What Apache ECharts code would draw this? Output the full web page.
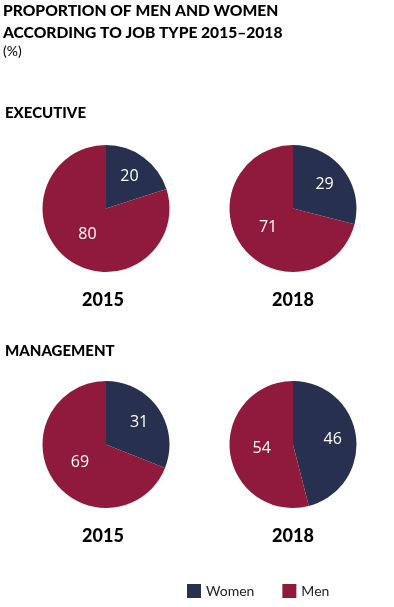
<!DOCTYPE html>
<html><head><meta charset="utf-8">
<script src="https://cdn.jsdelivr.net/npm/echarts@6/dist/echarts.min.js"></script>
<style>html,body{margin:0;padding:0;background:#fff}#c{width:394px;height:607px}</style>
</head><body><div id="c"></div>
<script>
var categories = ['Women', 'Men'];
var years = ['2015', '2018'];
var executive2015 = [20, 80];
var executive2018 = [29, 71];
var management2015 = [31, 69];
var management2018 = [46, 54];

var colors = ['#27314f', '#901a3c'];
var chart = echarts.init(document.getElementById('c'));

var pies = [
  {vals: executive2015, cx: 106, cy: 208.5},
  {vals: executive2018, cx: 293, cy: 208.5},
  {vals: management2015, cx: 106, cy: 444.5},
  {vals: management2018, cx: 293, cy: 444.5}
];
var series = [];
pies.forEach(function (p) {
  var data = categories.map(function (c, i) { return {name: c, value: p.vals[i]}; });
  series.push({
    type: 'pie', center: [p.cx, p.cy], radius: [0, 63.5], startAngle: 90, clockwise: true,
    silent: true, label: {show: false}, labelLine: {show: false},
    itemStyle: {borderWidth: 0}, color: colors, data: data
  });
  [[0, 74], [1, 57]].forEach(function (cfg) {
    series.push({
      type: 'pie', center: [p.cx, p.cy], radius: [0, cfg[1]], startAngle: 90, clockwise: true,
      silent: true, labelLine: {show: false},
      itemStyle: {color: 'rgba(0,0,0,0)', borderWidth: 0},
      data: data.map(function (d, i) {
        return {name: d.name, value: d.value,
          label: {show: i === cfg[0], position: 'inside', color: '#fff',
            fontFamily: 'Open Sans', fontSize: 16, formatter: '{c}'}};
      })
    });
  });
});

function txt(t, x, y, size, weight, align) {
  return {type: 'text', x: x, y: y, style: {text: t, fill: '#000', font: weight + ' ' + size + 'px Lato',
    textAlign: align || 'left', textVerticalAlign: 'middle'}};
}

chart.setOption({
  animation: false,
  legend: {
    left: 182, top: 579, itemWidth: 14, itemHeight: 14, itemGap: 28, icon: 'rect',
    textStyle: {fontFamily: 'Lato', fontSize: 14, color: '#222', padding: [0, 0, 0, 0]},
    data: categories
  },
  graphic: [
    txt('PROPORTION OF MEN AND WOMEN', 3, 11, 15.6, 900),
    txt('ACCORDING TO JOB TYPE 2015\u20132018', 3, 33, 15.6, 900),
    txt('(%)', 3, 51, 14, 'normal'),
    txt('EXECUTIVE', 5, 113, 15, 900),
    txt('MANAGEMENT', 5, 351, 15, 900),
    txt(years[0], 103, 300, 18, 900, 'center'),
    txt(years[1], 293, 300, 18, 900, 'center'),
    txt(years[0], 103, 536, 18, 900, 'center'),
    txt(years[1], 293, 536, 18, 900, 'center')
  ],
  series: series
});
</script></body></html>
